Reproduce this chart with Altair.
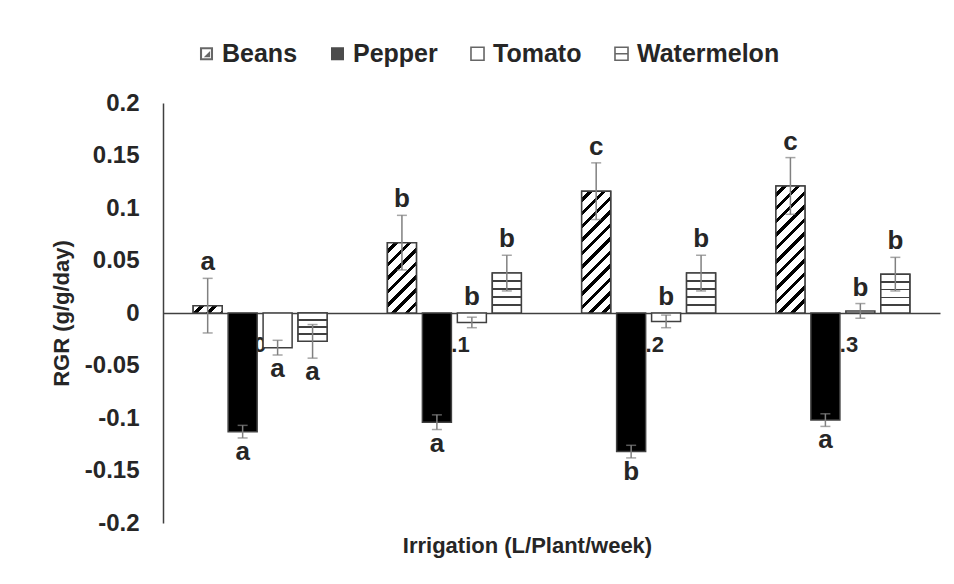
import math
import altair as alt
import pandas as pd

# ---------------- data ----------------
groups = ["0", "0.1", "0.2", "0.3"]
series = ["Beans", "Pepper", "Tomato", "Watermelon"]

beans = [0.007, 0.067, 0.116, 0.121]
pepper = [-0.113, -0.104, -0.132, -0.102]
tomato = [-0.033, -0.009, -0.008, 0.002]
watermelon = [-0.027, 0.038, 0.038, 0.037]

beans_err = [0.026, 0.026, 0.027, 0.027]
pepper_err = [0.006, 0.007, 0.006, 0.006]
tomato_err = [0.007, 0.005, 0.006, 0.007]
watermelon_err = [0.016, 0.017, 0.017, 0.016]

beans_letters = ["a", "b", "c", "c"]
pepper_letters = ["a", "a", "b", "a"]
tomato_letters = ["a", "b", "b", "b"]
watermelon_letters = ["a", "b", "b", "b"]

beans_side = ["up", "up", "up", "up"]
pepper_side = ["down", "down", "down", "down"]
tomato_side = ["down", "up", "up", "up"]
watermelon_side = ["down", "up", "up", "up"]

y_ticks = [-0.2, -0.15, -0.1, -0.05, 0, 0.05, 0.1, 0.15, 0.2]

values = {"Beans": beans, "Pepper": pepper, "Tomato": tomato, "Watermelon": watermelon}
errs = {"Beans": beans_err, "Pepper": pepper_err, "Tomato": tomato_err, "Watermelon": watermelon_err}
letters = {"Beans": beans_letters, "Pepper": pepper_letters, "Tomato": tomato_letters,
           "Watermelon": watermelon_letters}
sides = {"Beans": beans_side, "Pepper": pepper_side, "Tomato": tomato_side, "Watermelon": watermelon_side}

rows = []
for s in series:
    for gi, g in enumerate(groups):
        v = values[s][gi]
        e = errs[s][gi]
        side = sides[s][gi]
        anchor = max(v + e, 0) if side == "up" else v - e
        rows.append(dict(group=g, series=s, value=v, err=e, lo=v - e, hi=v + e,
                         letter=letters[s][gi], side=side, anchor=anchor))
df = pd.DataFrame(rows)

# ---------------- layout / style ----------------
FONT = "Liberation Sans"
TEXT = "#262626"
EDGE = "#404040"
PLOT_W, PLOT_H = 777, 420
Y_DOMAIN = [-0.2, 0.2]
PX_PER_UNIT = PLOT_H / (Y_DOMAIN[1] - Y_DOMAIN[0])
PI, PO = 0.28, 0.14
OPI, OPO = 0.17, 0.085
step = PLOT_W / (len(groups) - PI + 2 * PO)
band = step * (1 - PI)
ostep = band / (len(series) - OPI + 2 * OPO)
BAR_W = ostep * (1 - OPI)


def diag_hatch(h, w, period=9.5, thick=3.2, color="#000000"):
    L = (w + h) / math.sqrt(2)
    c = (1 / h + 1 / w) / (1 / h ** 2 + 1 / w ** 2)
    po, to = period / L, thick / L
    stops = [{"offset": 0, "color": "#ffffff"}]
    o = po * 0.5
    while o < 1:
        a, b = o, min(o + to, 1)
        stops += [{"offset": a, "color": "#ffffff"}, {"offset": a, "color": color},
                  {"offset": b, "color": color}, {"offset": b, "color": "#ffffff"}]
        o += po
    stops.append({"offset": 1, "color": "#ffffff"})
    return {"gradient": "linear", "x1": 0, "y1": 0, "x2": c / h, "y2": c / w, "stops": stops}


def horiz_lines(h, period=7.5, thick=1.6, color=EDGE):
    n = max(2, round(h / period))
    t = thick / h
    stops = [{"offset": 0, "color": "#ffffff"}]
    for i in range(1, n):
        m = i / n
        stops += [{"offset": m - t / 2, "color": "#ffffff"}, {"offset": m - t / 2, "color": color},
                  {"offset": m + t / 2, "color": color}, {"offset": m + t / 2, "color": "#ffffff"}]
    stops.append({"offset": 1, "color": "#ffffff"})
    return {"gradient": "linear", "x1": 0, "y1": 0, "x2": 0, "y2": 1, "stops": stops}


x_enc = alt.X("group:N", sort=groups,
              scale=alt.Scale(paddingInner=PI, paddingOuter=PO),
              axis=alt.Axis(title="Irrigation (L/Plant/week)", offset=-PLOT_H / 2, labelAngle=0,
                            ticks=False, domainColor=EDGE, domainWidth=1.5, zindex=0,
                            labelFont=FONT, labelFontSize=22, labelFontWeight="bold",
                            labelColor=TEXT, labelPadding=21,
                            titleFont=FONT, titleFontSize=22, titleFontWeight="bold",
                            titleColor=TEXT, titleX=364, titleY=222, titleAlign="center",
                            titleBaseline="top"))
xo_enc = alt.XOffset("series:N", sort=series,
                     scale=alt.Scale(paddingInner=OPI, paddingOuter=OPO))
y_scale = alt.Scale(domain=Y_DOMAIN, nice=False, zero=False)
y_axis = alt.Axis(values=y_ticks, title="RGR (g/g/day)", grid=False, ticks=False,
                  domainColor=EDGE, domainWidth=1.5, labelPadding=24,
                  labelExpr="toString(round(datum.value*100)/100)",
                  labelFont=FONT, labelFontSize=24, labelFontWeight="bold", labelColor=TEXT,
                  titleFont=FONT, titleFontSize=22, titleFontWeight="bold", titleColor=TEXT,
                  titleAngle=-90, titleX=-95, titleY=210, titleAlign="center",
                  titleBaseline="alphabetic")


def Y(field):
    return alt.Y(field, scale=y_scale, axis=y_axis, title="RGR (g/g/day)")


base = alt.Chart(df).encode(x=x_enc, xOffset=xo_enc)

bars = base.mark_bar(stroke=EDGE, strokeWidth=1.5).encode(
    y=Y("value:Q"),
    fill=alt.Fill("series:N", scale=alt.Scale(domain=series,
                                              range=["#ffffff", "#000000", "#ffffff", "#ffffff"]),
                  legend=None),
)

layers = [bars]
for gi, g in enumerate(groups):
    h = abs(beans[gi]) * PX_PER_UNIT
    layers.append(
        base.transform_filter(f"datum.series == 'Beans' && datum.group == '{g}'")
        .mark_bar(fill=diag_hatch(h, BAR_W), stroke=EDGE, strokeWidth=1.5)
        .encode(y=Y("value:Q"))
    )
    h = abs(watermelon[gi]) * PX_PER_UNIT
    layers.append(
        base.transform_filter(f"datum.series == 'Watermelon' && datum.group == '{g}'")
        .mark_bar(fill=horiz_lines(h), stroke=EDGE, strokeWidth=1.5)
        .encode(y=Y("value:Q"))
    )

ERR = "#808080"
layers.append(base.mark_rule(color=ERR, strokeWidth=1.5).encode(y=Y("lo:Q"), y2="hi:Q"))
layers.append(base.mark_tick(color=ERR, thickness=1.5, size=10, orient="horizontal").encode(y=Y("lo:Q")))
layers.append(base.mark_tick(color=ERR, thickness=1.5, size=10, orient="horizontal").encode(y=Y("hi:Q")))

txt = dict(font=FONT, fontSize=26, fontWeight="bold", color=TEXT)
layers.append(base.transform_filter("datum.side == 'up'")
              .mark_text(baseline="bottom", dy=-3, **txt)
              .encode(y=Y("anchor:Q"), text="letter:N"))
layers.append(base.transform_filter("datum.side == 'down'")
              .mark_text(baseline="top", dy=1, **txt)
              .encode(y=Y("anchor:Q"), text="letter:N"))

# legend: an empty point layer whose fill scale (explicit domain) gives the legend;
# per-entry symbol shapes / stroke widths via expressions on the legend entry
BEANS_ICON = "M-1,-1H1V1H-1Z M-0.68,-0.68V0.68H0.68V-0.68Z M0.55,-0.42L0.55,0.55L-0.42,0.55Z"
WATER_ICON = "M-1,-1H1V1H-1Z M-1,0H1"
shape_expr = (f"datum.value == 'Beans' ? '{BEANS_ICON}' : "
              f"datum.value == 'Watermelon' ? '{WATER_ICON}' : 'square'")
stroke_w_expr = "datum.value == 'Tomato' || datum.value == 'Watermelon' ? 1.6 : 0"
legend_fills = ["#262626", "#000000", "#ffffff", "#ffffff"]
LEG = alt.Legend(title=None, orient="none", direction="horizontal", legendX=31, legendY=-62,
                 labelFont=FONT, labelFontSize=25, labelFontWeight="bold", labelColor=TEXT,
                 symbolSize=170, symbolStrokeColor=TEXT,
                 symbolType=alt.ExprRef(expr=shape_expr),
                 symbolStrokeWidth=alt.ExprRef(expr=stroke_w_expr),
                 labelOffset=3, columnPadding=27)
legend_df = pd.DataFrame({"series": series})
layers.append(
    alt.Chart(legend_df).transform_filter("false")
    .mark_point(filled=True)
    .encode(
        fill=alt.Fill("series:N", scale=alt.Scale(domain=series, range=legend_fills), legend=LEG),
    )
)

chart = alt.layer(*layers).properties(
    width=PLOT_W, height=PLOT_H,
    autosize=alt.AutoSizeParams(type="none"),
    padding={"left": 155, "top": 95, "right": 6, "bottom": 53},
).resolve_scale(fill="independent").configure(font=FONT, background="white").configure_view(stroke=None)

chart.save("out.html", embed_options={"renderer": "svg", "actions": False})
